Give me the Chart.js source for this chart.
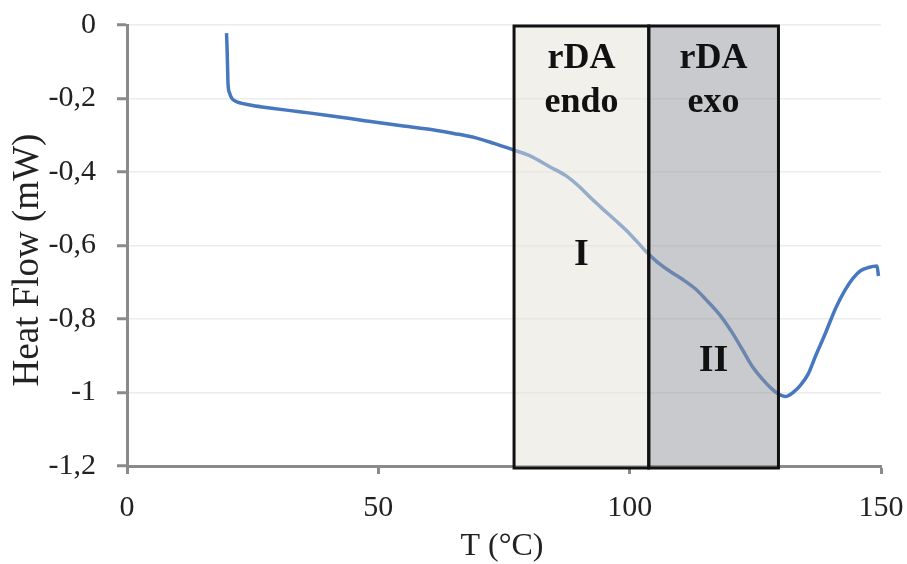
<!DOCTYPE html>
<html>
<head>
<meta charset="utf-8">
<script src="https://cdn.jsdelivr.net/npm/chart.js@4.4.1/dist/chart.umd.min.js"></script>
<style>
  html, body { margin: 0; padding: 0; background: #fff; }
  #wrap { width: 907px; height: 564px; }
</style>
</head>
<body>
<div id="wrap"><canvas id="dsc-chart"></canvas></div>
<script>
// DSC trace: temperature (°C) and heat flow (mW)
const temperature = [19.8, 19.9, 20.0, 20.1, 20.4, 20.8, 21.3, 22, 23.1, 25, 28, 34.3, 40, 47.6, 55, 60.8, 65, 69.4, 73, 76.7,
  80, 84, 87.3, 90, 92.6, 95, 97.2, 99.2, 101.5, 103.5, 105.5, 108, 110.5, 113, 115.1, 118, 120.4, 122.5, 124.3, 126.5,
  128.5, 129.6, 131, 132.5, 134, 135.5, 137, 138.9, 141, 142.9, 144.5, 146, 147.5, 149.2, 149.5];
const heatFlow = [-0.022, -0.06, -0.11, -0.16, -0.185, -0.198, -0.205, -0.21, -0.214, -0.219, -0.225, -0.236, -0.246, -0.261, -0.275, -0.285, -0.295, -0.307, -0.322, -0.339,
  -0.355, -0.385, -0.41, -0.44, -0.475, -0.505, -0.532, -0.557, -0.59, -0.62, -0.645, -0.67, -0.692, -0.717, -0.746, -0.79, -0.837, -0.885, -0.927, -0.965,
  -0.993, -1.004, -1.011, -1.0, -0.98, -0.95, -0.9, -0.84, -0.77, -0.72, -0.688, -0.668, -0.66, -0.656, -0.683];

// shaded regions
const regionStart = [77, 103.8];
const regionEnd = [103.8, 129.6];
const regionTitle = [["rDA", "endo"], ["rDA", "exo"]];
const regionStep = ["I", "II"];

const xTicks = [0, 50, 100, 150];
const yTicks = [0, -0.2, -0.4, -0.6, -0.8, -1, -1.2];

const serif = "'Liberation Serif', 'Times New Roman', serif";
const axisGray = "#8a8a8a";

const regionsPlugin = {
  id: "regions",
  afterDatasetsDraw(chart) {
    const { ctx, scales } = chart;
    const x = scales.x;
    const y = scales.y;
    const fills = ["rgba(229, 225, 215, 0.5)", "rgba(145, 149, 157, 0.5)"];
    const top = y.getPixelForValue(0) + 1;
    const bottom = y.getPixelForValue(-1.2) + 2;
    ctx.save();
    regionStart.forEach((start, i) => {
      const left = x.getPixelForValue(start);
      const right = x.getPixelForValue(regionEnd[i]);
      ctx.fillStyle = fills[i];
      ctx.fillRect(left, top, right - left, bottom - top);
    });
    ctx.strokeStyle = "#111";
    ctx.lineWidth = 3;
    regionStart.forEach((start, i) => {
      const left = x.getPixelForValue(start);
      const right = x.getPixelForValue(regionEnd[i]);
      ctx.strokeRect(left, top, right - left, bottom - top);
    });
    ctx.fillStyle = "#111";
    ctx.textAlign = "center";
    ctx.textBaseline = "alphabetic";
    regionStart.forEach((start, i) => {
      const cx = (x.getPixelForValue(start) + x.getPixelForValue(regionEnd[i])) / 2;
      ctx.font = "bold 36px " + serif;
      ctx.fillText(regionTitle[i][0], cx, y.getPixelForValue(-0.117));
      ctx.fillText(regionTitle[i][1], cx, y.getPixelForValue(-0.237));
      ctx.font = "bold 38px " + serif;
      ctx.fillText(regionStep[i], cx, y.getPixelForValue(i === 0 ? -0.652 : -0.942));
    });
    ctx.restore();
  },
  afterDraw(chart) {
    const { ctx } = chart;
    ctx.save();
    ctx.fillStyle = "#222";
    ctx.textAlign = "center";
    ctx.textBaseline = "middle";
    ctx.font = "32px " + serif;
    ctx.fillText("T (°C)", 502, 547);
    ctx.translate(28, 260);
    ctx.rotate(-Math.PI / 2);
    ctx.font = "37px " + serif;
    ctx.fillText("Heat Flow (mW)", 0, 0);
    ctx.restore();
  },
};

const points = temperature.map((t, i) => ({ x: t, y: heatFlow[i] }));

new Chart(document.getElementById("dsc-chart"), {
  type: "line",
  data: {
    datasets: [
      {
        label: "Heat Flow",
        data: points,
        borderColor: "#4677bf",
        borderWidth: 3.5,
        pointRadius: 0,
        cubicInterpolationMode: "monotone",
      },
    ],
  },
  options: {
    responsive: true,
    maintainAspectRatio: false,
    animation: false,
    layout: { autoPadding: false, padding: { top: 25, right: 26, left: 0, bottom: 0 } },
    plugins: {
      legend: { display: false },
      tooltip: { enabled: false },
    },
    scales: {
      x: {
        type: "linear",
        min: 0,
        max: 150,
        afterFit: (s) => { s.height = 98; s.paddingLeft = 0; s.paddingRight = 0; },
        afterBuildTicks: (s) => { s.ticks = xTicks.map((v) => ({ value: v })); },
        border: { color: axisGray, width: 3 },
        grid: { drawOnChartArea: false, drawTicks: true, tickLength: 8, tickColor: axisGray, tickWidth: 3 },
        ticks: { color: "#222", font: { family: serif, size: 30 }, padding: 16, maxRotation: 0 },
      },
      y: {
        min: -1.2,
        max: 0,
        afterFit: (s) => { s.width = 127; s.paddingTop = 0; s.paddingBottom = 0; },
        afterBuildTicks: (s) => { s.ticks = yTicks.map((v) => ({ value: v })); },
        border: { color: axisGray, width: 3 },
        grid: { color: "#ececec", lineWidth: 1.5, drawTicks: true, tickLength: 10, tickColor: axisGray, tickWidth: 3 },
        ticks: {
          color: "#222",
          font: { family: serif, size: 30 },
          padding: 21,
          callback: (v) => String(Math.round(v * 10) / 10).replace(".", ","),
        },
      },
    },
  },
  plugins: [regionsPlugin],
});
</script>
</body>
</html>
